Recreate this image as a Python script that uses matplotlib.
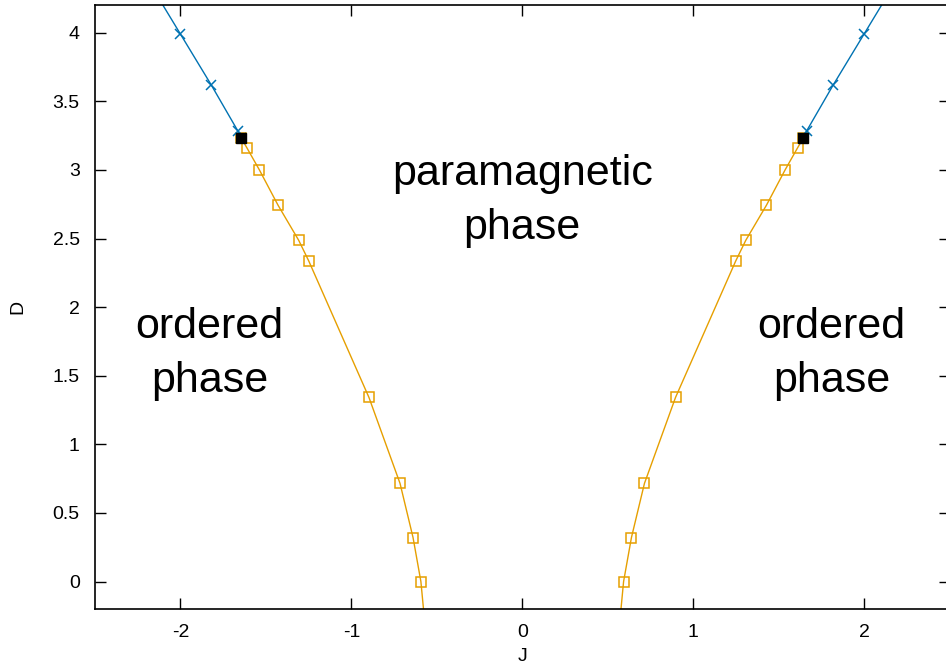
import numpy as np
import matplotlib
matplotlib.use("Agg")
import matplotlib.pyplot as plt

plt.rcParams['font.family'] = ['Liberation Sans', 'DejaVu Sans']
plt.rcParams['axes.unicode_minus'] = False

# second-order line (orange squares), left branch; right branch is the mirror
J_second = [-1.643, -1.612, -1.538, -1.429, -1.308, -1.249, -0.897, -0.715, -0.639, -0.593, -0.555]
D_second = [3.229, 3.163, 3.0, 2.743, 2.487, 2.336, 1.342, 0.715, 0.321, 0.0, -0.5]

# first-order line (blue crosses)
J_first = [-1.643, -1.664, -1.82, -2.0, -2.18]
D_first = [3.229, 3.284, 3.62, 3.99, 4.36]

# tricritical point
J_tcp = [-1.643]
D_tcp = [3.229]

orange = '#e69f00'
blue = '#0072b2'

fig = plt.figure(figsize=(9.46, 6.66), dpi=100)
ax = fig.add_axes([0.1004, 0.0856, 0.9033, 0.9065])

for s in (1, -1):
    ax.plot(s * np.array(J_second), D_second, color=orange, lw=1.0,
            marker='s', ms=7, mfc='none', mec=orange, mew=1.1)
    ax.plot(s * np.array(J_first), D_first, color=blue, lw=1.0,
            marker='x', ms=7, mec=blue, mew=1.1)
    ax.plot(s * np.array(J_tcp), D_tcp, ls='none', marker='s', ms=7,
            mfc='black', mec='black', zorder=5)

ax.set_xlim(-2.5, 2.5)
ax.set_ylim(-0.2, 4.2)
ax.set_xticks([-2, -1, 0, 1, 2])
ax.set_yticks([0, 0.5, 1, 1.5, 2, 2.5, 3, 3.5, 4])
ax.set_yticklabels(['0', '0.5', '1', '1.5', '2', '2.5', '3', '3.5', '4'])
ax.tick_params(direction='in', length=8, width=1, labelsize=14,
               top=True, right=True, pad=11)
for sp in ax.spines.values():
    sp.set_linewidth(1.2)

ax.set_xlabel('J', fontsize=14, labelpad=5)
ax.set_ylabel('D', fontsize=14, labelpad=19)

ax.text(0, 2.77, 'paramagnetic\nphase', ha='center', va='center',
        fontsize=31, linespacing=1.45)
ax.text(-1.83, 1.66, 'ordered\nphase', ha='center', va='center',
        fontsize=31, linespacing=1.45)
ax.text(1.81, 1.66, 'ordered\nphase', ha='center', va='center',
        fontsize=31, linespacing=1.45)

fig.savefig('out.png', dpi=100)
